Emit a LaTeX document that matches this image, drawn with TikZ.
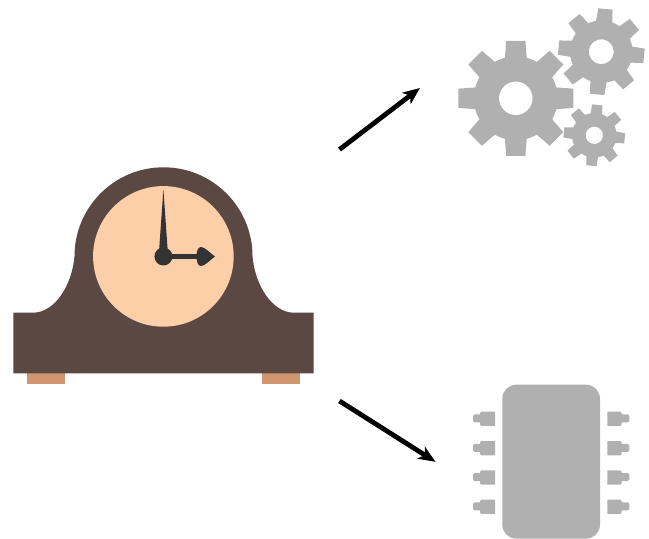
\documentclass[tikz,border=0pt]{standalone}
\usetikzlibrary{arrows.meta}
\definecolor{wood}{HTML}{5B4842}
\definecolor{face}{HTML}{FDCFA9}
\definecolor{foot}{HTML}{CF9670}
\definecolor{hand}{HTML}{333333}
\definecolor{part}{HTML}{B0B0B0}
\tikzset{
  partfill/.style={fill=part,draw=none},
  link/.style={line width=4.8pt,-{Stealth[length=17pt,width=14pt,inset=4.5pt]}}
}
% center x, center y (y up), rotation, outer radius, root radius, hole radius
\newcommand{\gearshape}[6]{%
  \fill[partfill,even odd rule,shift={(#1,#2)},rotate=#3]
    (90-15:#5)
    \foreach \k in {0,45,...,315}{
      -- ({90+\k-15}:#5) -- ({90+\k-9.5}:#4) -- ({90+\k+9.5}:#4) -- ({90+\k+15}:#5)
      arc[start angle={90+\k+15},end angle={90+\k+30},radius=#5]
    } -- cycle
    (0,0) circle[radius=#6];
}
\begin{document}
\begin{tikzpicture}[x=1pt,y=1pt]
\useasboundingbox (0,0) rectangle (649,539);
% clock (y' = 539 - y)
\fill[foot] (27,155) rectangle (65,166);
\fill[foot] (262,155) rectangle (300,166);
\fill[wood] (13.3,165.7) -- (13.3,226.3) -- (33,226.3)
  .. controls (55,226.3) and (72,254) .. (74.5,282.7)
  arc[start angle=180,end angle=0,radius=89]
  .. controls (255,254) and (272,226.3) .. (294,226.3)
  -- (313.7,226.3) -- (313.7,165.7) -- cycle;
\fill[face] (163.4,282.6) circle[radius=70.3];
\fill[hand] (163.4,349.7) -- (168.1,283) -- (158.7,283) -- cycle;
\fill[hand] (163.4,282.5) circle[radius=9];
\fill[hand] (165,279.9) rectangle (198,285.1);
\fill[hand] (196.5,282.5) .. controls (196.5,288) and (198,292) .. (201,292)
  .. controls (205,292) and (210,286) .. (215,282.5)
  .. controls (210,279) and (205,273) .. (201,273)
  .. controls (198,273) and (196.5,277) .. (196.5,282.5) -- cycle;
% gears
\gearshape{515.8}{440.7}{0}{58.3}{42}{16.8}
\gearshape{601.3}{487.3}{-5.5}{43.5}{31.3}{12.5}
\gearshape{594.3}{403.7}{-5.5}{31}{22.3}{8.7}
% chip
\fill[partfill,rounded corners=14pt] (502.3,0.3) rectangle (600,154.3);
\foreach \i in {0,1,2,3}{
  \begin{scope}[yshift={-29.33*\i}]
    \fill[partfill,rounded corners=1.5pt] (473,116.5) rectangle (483,124.5);
    \fill[partfill] (495,113) -- (495,127.3) -- (481.5,127.3) -- (480,126) -- (480,114.3) -- (481.5,113) -- cycle;
    \fill[partfill,rounded corners=1.5pt] (619,116.5) rectangle (629.3,124.5);
    \fill[partfill] (607.3,113) -- (607.3,127.3) -- (620.2,127.3) -- (621.7,126) -- (621.7,114.3) -- (620.2,113) -- cycle;
  \end{scope}
}
% arrows
\coordinate (a1) at (339.5,389.5);
\coordinate (a2) at (420,451);
\coordinate (b1) at (339.5,138);
\coordinate (b2) at (435.5,77.2);
\draw[link] (a1) -- (a2);
\draw[link] (b1) -- (b2);
\end{tikzpicture}
\end{document}
